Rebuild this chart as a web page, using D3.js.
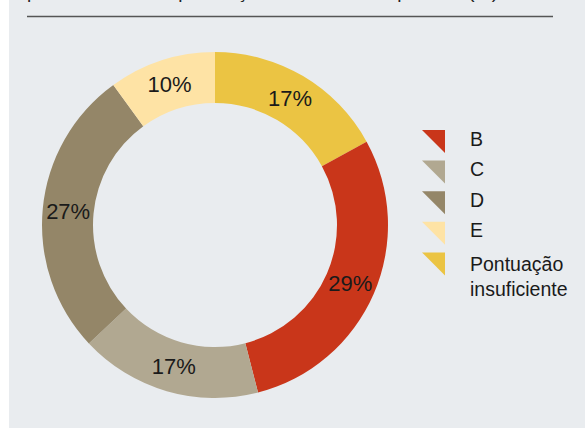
<!DOCTYPE html>
<html>
<head>
<meta charset="utf-8">
<script src="https://cdn.jsdelivr.net/npm/d3@7"></script>
<style>
  body { margin: 0; background: #fff; }
  svg { display: block; font-family: "Liberation Sans", Arial, sans-serif; }
</style>
</head>
<body>
<svg id="chart"></svg>
<script>
// data
const categories = ['Pontuação insuficiente', 'B', 'C', 'D', 'E'];
const values = [17, 29, 17, 27, 10];
const colors = ['#ebc443', '#c9361a', '#b1a891', '#948668', '#fee3a5'];
const legendOrder = ['B', 'C', 'D', 'E', 'Pontuação insuficiente'];
const legendLines = {'Pontuação insuficiente': ['Pontuação', 'insuficiente']};

const width = 585;
const height = 428;

const svg = d3.select('#chart')
    .attr('width', width)
    .attr('height', height);

// panel background
svg.append('rect')
    .attr('x', 9).attr('y', 0)
    .attr('width', width - 9).attr('height', height)
    .attr('fill', '#e9ecef');

// title (cut off at top) and rule
svg.append('text')
    .attr('x', 27).attr('y', -2)
    .attr('textLength', 471)
    .attr('lengthAdjust', 'spacing')
    .style('font-size', '19px')
    .attr('fill', '#222')
    .text('peso relativo das pontuações de risco final por ano (%)');

svg.append('line')
    .attr('x1', 27).attr('x2', 553)
    .attr('y1', 16.5).attr('y2', 16.5)
    .attr('stroke', '#555')
    .attr('stroke-width', 1.3);

// donut
const cx = 215, cy = 225;
const outerR = 173, innerR = 122;

const color = d3.scaleOrdinal().domain(categories).range(colors);

const pie = d3.pie()
    .sort(null)
    .value((d, i) => values[i]);

const arc = d3.arc()
    .innerRadius(innerR)
    .outerRadius(outerR);

const g = svg.append('g')
    .attr('transform', `translate(${cx},${cy})`);

const arcs = pie(categories);

g.selectAll('path')
    .data(arcs)
    .enter()
    .append('path')
    .attr('d', arc)
    .attr('fill', d => color(d.data));

g.selectAll('text.lbl')
    .data(arcs)
    .enter()
    .append('text')
    .attr('class', 'lbl')
    .attr('transform', d => `translate(${arc.centroid(d)})`)
    .attr('text-anchor', 'middle')
    .attr('dominant-baseline', 'central')
    .style('font-size', '22px')
    .attr('fill', '#1a1a1a')
    .text((d, i) => values[i] + '%');

// legend
const legend = svg.append('g')
    .attr('transform', 'translate(422,130)');

const items = legend.selectAll('g')
    .data(legendOrder)
    .enter()
    .append('g')
    .attr('transform', (d, i) => `translate(0,${i * 30.6})`);

items.append('path')
    .attr('d', 'M0,0 L23,0 L23,23 Z')
    .attr('fill', d => color(d));

items.append('text')
    .attr('x', 48)
    .attr('y', d => legendLines[d] ? 18.5 : 15.5)
    .style('font-size', '19.5px')
    .attr('fill', '#1a1a1a')
    .each(function (d) {
        const lines = legendLines[d] || [d];
        d3.select(this).selectAll('tspan')
            .data(lines)
            .enter()
            .append('tspan')
            .attr('x', 48)
            .attr('dy', (l, j) => j === 0 ? 0 : 25)
            .text(l => l);
    });
</script>
</body>
</html>
